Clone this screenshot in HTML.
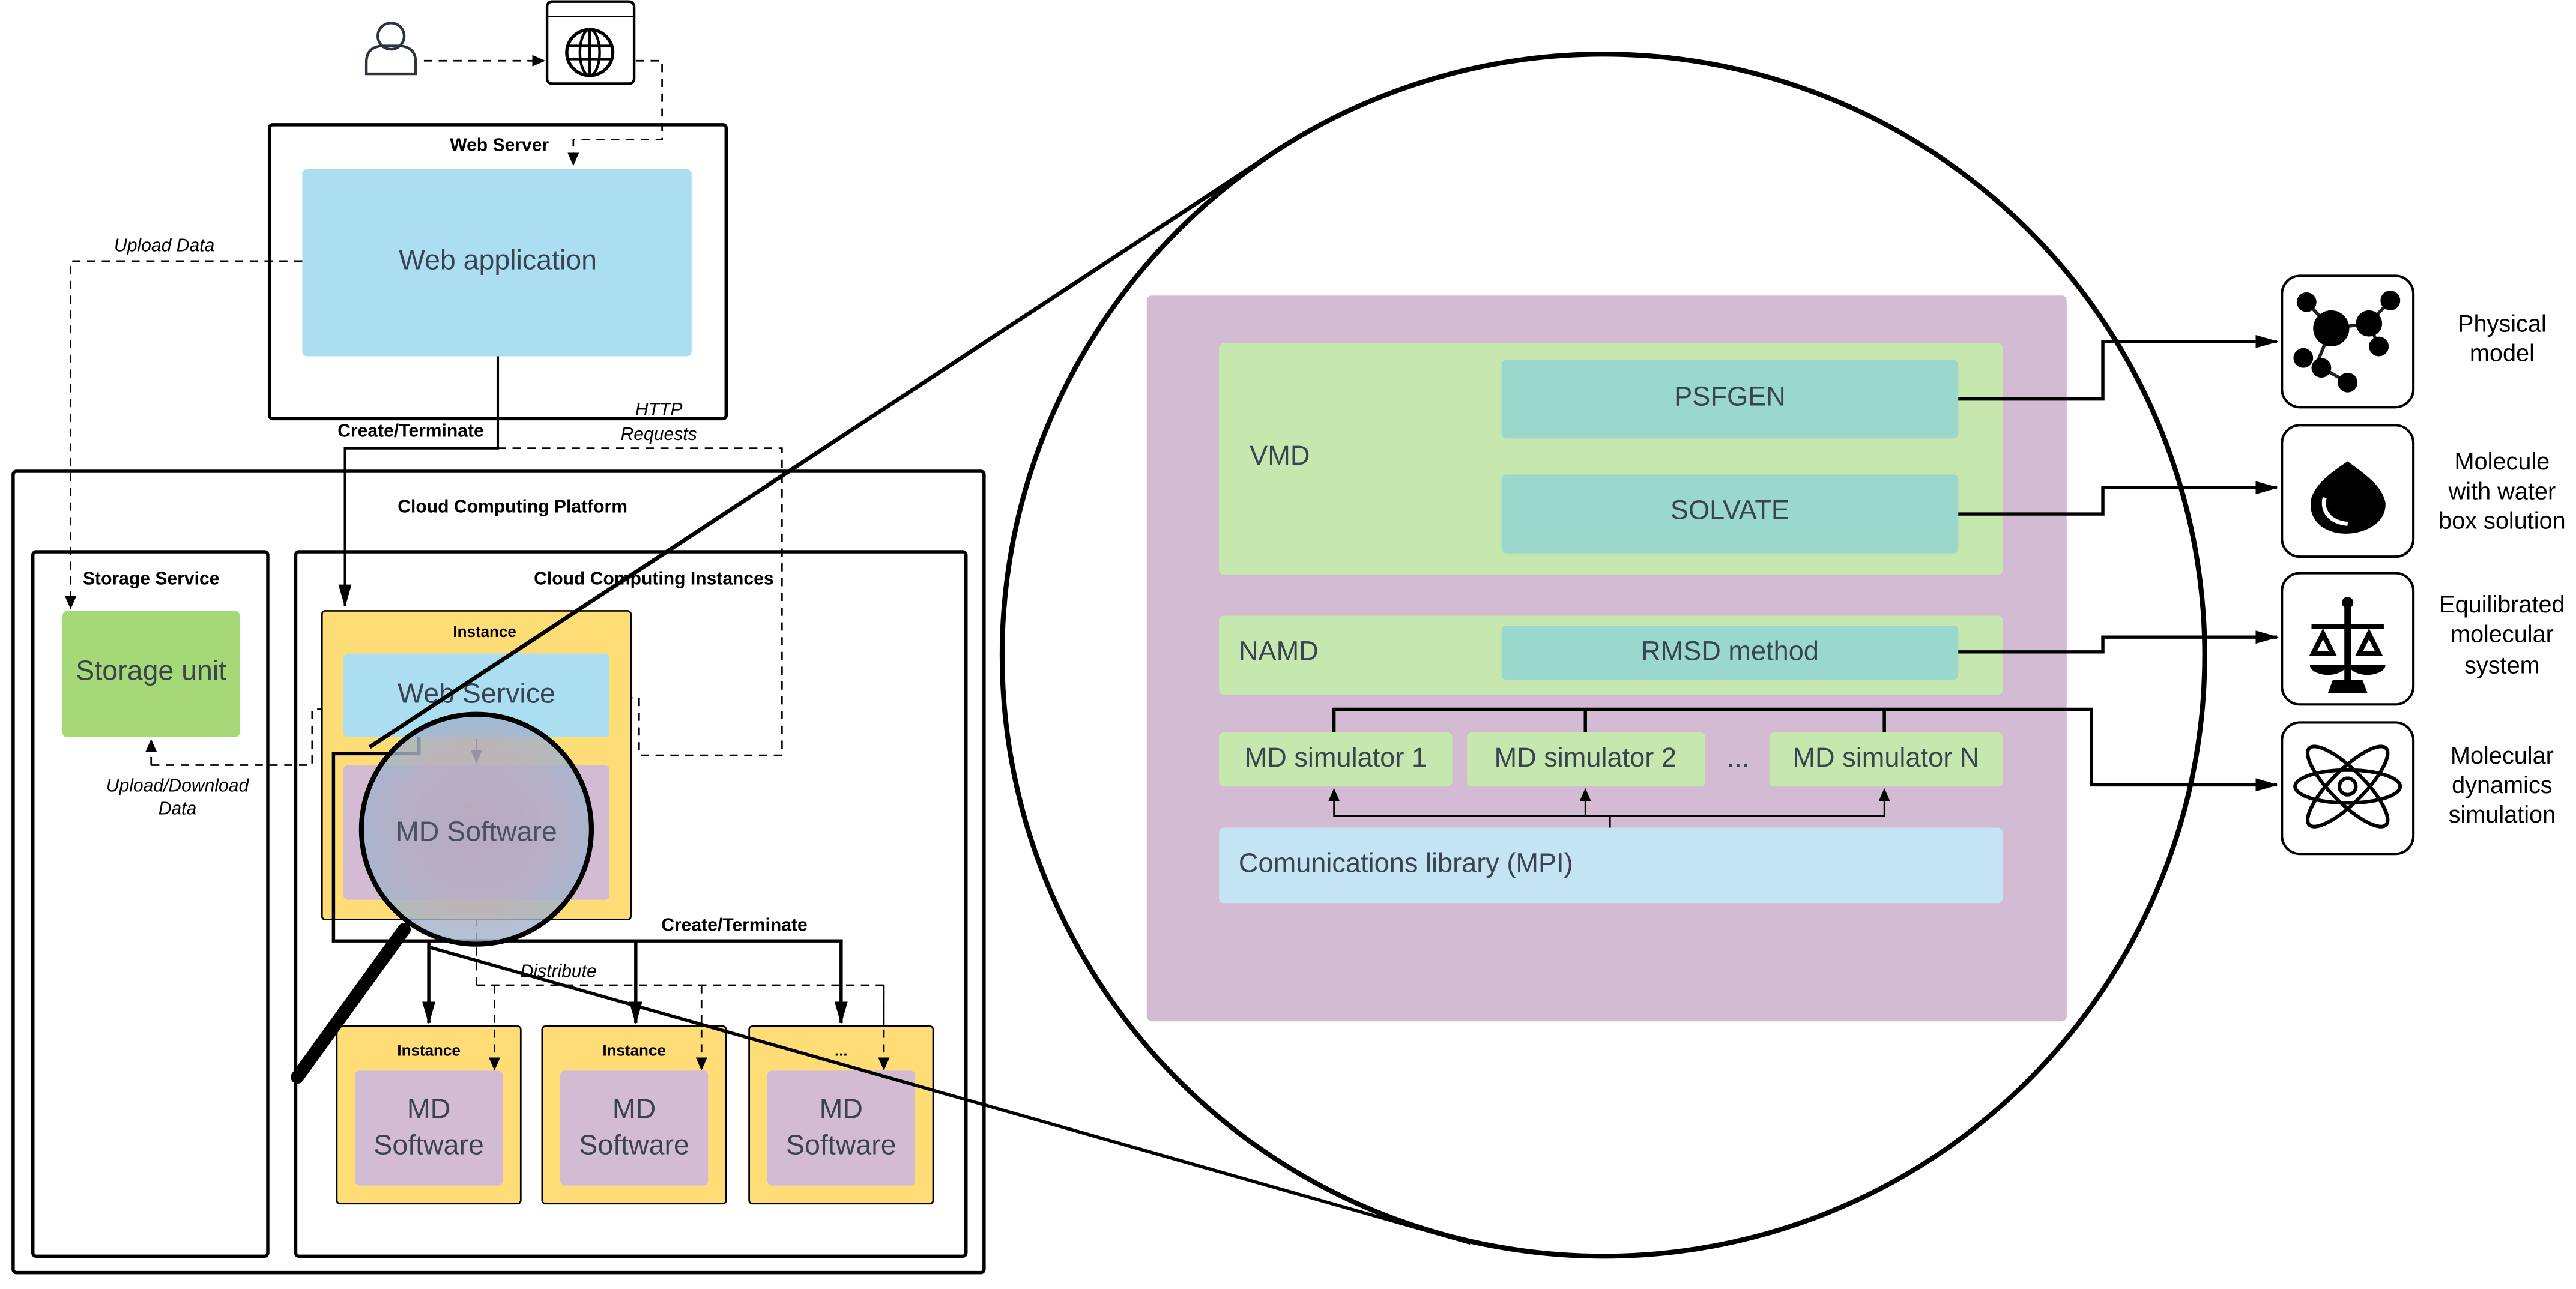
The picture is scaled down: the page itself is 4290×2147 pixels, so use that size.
<!DOCTYPE html>
<html><head><meta charset="utf-8"><style>
html,body{margin:0;padding:0;background:#fff;}
svg{display:block;}
text{font-family:"Liberation Sans",sans-serif;}
.b{font-weight:bold;font-size:11px;fill:#000;}
.i{font-style:italic;font-size:11px;fill:#000;}
.big{font-size:17px;fill:#3a4450;}
.rt{font-size:14.5px;fill:#000;}
.zm{font-size:16.5px;fill:#3a4450;}
</style></head><body>
<svg width="4290" height="2147" viewBox="0 0 1568 785" preserveAspectRatio="none" xmlns="http://www.w3.org/2000/svg">
<defs>
<marker id="a" markerWidth="8" markerHeight="8" refX="7" refY="4" orient="auto" markerUnits="userSpaceOnUse"><path d="M0,0.5 L8,4 L0,7.5z" fill="#000"/></marker>
<marker id="a2" markerWidth="14" markerHeight="10" refX="13" refY="5" orient="auto" markerUnits="userSpaceOnUse"><path d="M0,1 L14,5 L0,9z" fill="#000"/></marker>
<radialGradient id="mg" cx="50%" cy="50%" r="50%"><stop offset="0" stop-color="#b6a7bb" stop-opacity="0.9"/><stop offset="0.7" stop-color="#b0aec4" stop-opacity="0.85"/><stop offset="1" stop-color="#9eb3cc" stop-opacity="0.8"/></radialGradient>
</defs>

<!-- user & browser -->
<g fill="none" stroke="#2b3440" stroke-width="1.6">
<circle cx="238" cy="22" r="8"/>
<path d="M223,45 L223,38 Q223,29 232,28 L244,28 Q253,29 253,38 L253,45 Z"/>
</g>
<rect x="333" y="1" width="53" height="50" rx="3" fill="#fff" stroke="#000" stroke-width="1.6"/>
<line x1="333" y1="10" x2="386" y2="10" stroke="#000" stroke-width="1"/>
<circle cx="359" cy="32" r="14" fill="none" stroke="#000" stroke-width="2"/>
<ellipse cx="359" cy="32" rx="6" ry="14" fill="none" stroke="#000" stroke-width="1.6"/>
<line x1="345" y1="28" x2="373" y2="28" stroke="#000" stroke-width="1.6"/><line x1="345" y1="36" x2="373" y2="36" stroke="#000" stroke-width="1.6"/><line x1="359" y1="18" x2="359" y2="46" stroke="#000" stroke-width="1.6"/>
<g fill="none" stroke="#000" stroke-width="1" stroke-dasharray="5,4">
<path d="M258,37 H331" marker-end="url(#a)"/>
<path d="M387,37 H403 V85 H349 V100" marker-end="url(#a)"/>
<path d="M184,159 H43 V370" marker-end="url(#a)"/>
<path d="M303,273 H476 V460 H389 V425 H373" marker-end="url(#a)"/>
<path d="M92,466 H190 V432 H207" marker-end="url(#a)"/>
<path d="M92,466 V451" marker-end="url(#a)"/>
<path d="M290,600 V548" marker-end="url(#a)"/>
<path d="M290,600 H538 V651" marker-end="url(#a)"/>
</g>
<path d="M303,217 V273 H210 V369" fill="none" stroke="#000" stroke-width="1.5" marker-end="url(#a2)"/>

<!-- web server -->
<rect x="164" y="76" width="278" height="179" rx="2" fill="none" stroke="#000" stroke-width="2"/>
<text class="b" x="304" y="92" text-anchor="middle">Web Server</text>
<rect x="184" y="103" width="237" height="114" rx="3" fill="#acdef2"/>
<text class="big" x="303" y="164" text-anchor="middle">Web application</text>
<text class="i" x="100" y="153" text-anchor="middle">Upload Data</text>
<text class="b" x="250" y="266" text-anchor="middle">Create/Terminate</text>
<text class="i" x="401" y="253" text-anchor="middle">HTTP</text>
<text class="i" x="401" y="268" text-anchor="middle">Requests</text>

<!-- cloud platform -->
<rect x="8" y="287" width="591" height="488" rx="2" fill="none" stroke="#000" stroke-width="2"/>
<text class="b" x="312" y="312" text-anchor="middle">Cloud Computing Platform</text>
<rect x="20" y="336" width="143" height="429" rx="2" fill="none" stroke="#000" stroke-width="2"/>
<text class="b" x="92" y="356" text-anchor="middle">Storage Service</text>
<rect x="38" y="372" width="108" height="77" rx="3" fill="#a5d877"/>
<text class="big" x="92" y="414" text-anchor="middle">Storage unit</text>
<text class="i" x="108" y="482" text-anchor="middle">Upload/Download</text>
<text class="i" x="108" y="496" text-anchor="middle">Data</text>
<rect x="180" y="336" width="408" height="429" rx="2" fill="none" stroke="#000" stroke-width="2"/>
<text class="b" x="398" y="356" text-anchor="middle">Cloud Computing Instances</text>

<rect x="196" y="372" width="188" height="188" rx="2" fill="#fedd77" stroke="#000" stroke-width="1"/>
<text class="b" x="295" y="388" text-anchor="middle" style="font-size:9.5px">Instance</text>
<rect x="209" y="398" width="162" height="51" rx="3" fill="#acdef2"/>
<text class="big" x="290" y="428" text-anchor="middle">Web Service</text>
<rect x="209" y="466" width="162" height="82" rx="3" fill="#d2bbd3"/>
<path d="M290,450 V464" stroke="#000" stroke-width="1" fill="none" marker-end="url(#a)"/>

<!-- create/terminate 2 -->
<path d="M255,449 V459 H203 V573 H512 V623" fill="none" stroke="#000" stroke-width="2" marker-end="url(#a2)"/>
<path d="M261,573 V623" fill="none" stroke="#000" stroke-width="2" marker-end="url(#a2)"/>
<path d="M387,573 V623" fill="none" stroke="#000" stroke-width="2" marker-end="url(#a2)"/>
<text class="b" x="447" y="567" text-anchor="middle">Create/Terminate</text>
<text class="i" x="340" y="595" text-anchor="middle">Distribute</text>

<g>
<rect x="205" y="625" width="112" height="108" rx="2" fill="#fedd77" stroke="#000" stroke-width="1"/>
<rect x="216" y="652" width="90" height="70" rx="3" fill="#d2bbd3"/>
<text class="b" x="261" y="643" text-anchor="middle" style="font-size:9.5px">Instance</text>
<text class="big" x="261" y="681" text-anchor="middle">MD</text><text class="big" x="261" y="703" text-anchor="middle">Software</text>
<rect x="330" y="625" width="112" height="108" rx="2" fill="#fedd77" stroke="#000" stroke-width="1"/>
<rect x="341" y="652" width="90" height="70" rx="3" fill="#d2bbd3"/>
<text class="b" x="386" y="643" text-anchor="middle" style="font-size:9.5px">Instance</text>
<text class="big" x="386" y="681" text-anchor="middle">MD</text><text class="big" x="386" y="703" text-anchor="middle">Software</text>
<rect x="456" y="625" width="112" height="108" rx="2" fill="#fedd77" stroke="#000" stroke-width="1"/>
<rect x="467" y="652" width="90" height="70" rx="3" fill="#d2bbd3"/>
<text class="b" x="512" y="643" text-anchor="middle" style="font-size:9.5px">...</text>
<text class="big" x="512" y="681" text-anchor="middle">MD</text><text class="big" x="512" y="703" text-anchor="middle">Software</text>
</g>
<path d="M301,600 V651" stroke="#000" stroke-width="1" stroke-dasharray="5,4" marker-end="url(#a)"/>
<path d="M427,600 V651" stroke="#000" stroke-width="1" stroke-dasharray="5,4" marker-end="url(#a)"/>
<path d="M538,600 V651" stroke="#000" stroke-width="1" stroke-dasharray="5,4" marker-end="url(#a)"/>

<!-- magnifier -->
<circle cx="290" cy="505" r="70" fill="url(#mg)" stroke="#000" stroke-width="3"/>
<text class="big" x="290" y="512" text-anchor="middle" style="fill:#4a5060">MD Software</text>
<line x1="246" y1="566" x2="181" y2="656" stroke="#000" stroke-width="8" stroke-linecap="round"/>
<line x1="775" y1="93" x2="225" y2="455" stroke="#000" stroke-width="2.5"/>
<line x1="262" y1="577" x2="895" y2="757" stroke="#000" stroke-width="2"/>

<!-- big circle -->
<circle cx="976" cy="399" r="366" fill="#fff" stroke="#000" stroke-width="3"/>
<rect x="698" y="180" width="560" height="442" rx="3" fill="#d2bbd3"/>
<rect x="742" y="209" width="477" height="141" rx="3" fill="#c6e8ae"/>
<text class="zm" x="779" y="283" text-anchor="middle">VMD</text>
<rect x="914" y="219" width="278" height="48" rx="3" fill="#9ad7cc"/>
<text class="zm" x="1053" y="247" text-anchor="middle">PSFGEN</text>
<rect x="914" y="289" width="278" height="48" rx="3" fill="#9ad7cc"/>
<text class="zm" x="1053" y="316" text-anchor="middle">SOLVATE</text>
<rect x="742" y="375" width="477" height="48" rx="3" fill="#c6e8ae"/>
<text class="zm" x="754" y="402">NAMD</text>
<rect x="914" y="381" width="278" height="33" rx="3" fill="#9ad7cc"/>
<text class="zm" x="1053" y="402" text-anchor="middle">RMSD method</text>
<rect x="742" y="446" width="142" height="33" rx="3" fill="#c6e8ae"/>
<text class="zm" x="813" y="467" text-anchor="middle">MD simulator 1</text>
<rect x="893" y="446" width="145" height="33" rx="3" fill="#c6e8ae"/>
<text class="zm" x="965" y="467" text-anchor="middle">MD simulator 2</text>
<text class="zm" x="1058" y="467" text-anchor="middle">...</text>
<rect x="1077" y="446" width="142" height="33" rx="3" fill="#c6e8ae"/>
<text class="zm" x="1148" y="467" text-anchor="middle">MD simulator N</text>
<rect x="742" y="504" width="477" height="46" rx="3" fill="#c4e4f4"/>
<text class="zm" x="754" y="531">Comunications library (MPI)</text>

<g fill="none" stroke="#000" stroke-width="2">
<path d="M1192,243 H1280 V208 H1386" marker-end="url(#a2)"/>
<path d="M1192,313 H1280 V297 H1386" marker-end="url(#a2)"/>
<path d="M1192,397 H1280 V388 H1386" marker-end="url(#a2)"/>
<path d="M812,446 V432 H1273 V478 H1386" marker-end="url(#a2)"/>
<path d="M965,432 V446 M1147,432 V446"/>
</g>
<g fill="none" stroke="#000" stroke-width="1">
<path d="M980,504 V497 H812 V481" marker-end="url(#a)"/>
<path d="M980,497 H1147 V481" marker-end="url(#a)"/>
<path d="M965,497 V481" marker-end="url(#a)"/>
</g>

<!-- icons -->
<g fill="#fff" stroke="#000" stroke-width="1.5">
<rect x="1389" y="168" width="80" height="80" rx="11"/>
<rect x="1389" y="259" width="80" height="80" rx="11"/>
<rect x="1389" y="349" width="80" height="80" rx="11"/>
<rect x="1389" y="440" width="80" height="80" rx="11"/>
</g>
<g stroke="#222" stroke-width="2"><line x1="1404" y1="184" x2="1419" y2="200"/><line x1="1419" y1="200" x2="1442" y2="197"/><line x1="1442" y1="197" x2="1455" y2="183"/><line x1="1442" y1="197" x2="1448" y2="211"/><line x1="1419" y1="200" x2="1410" y2="222"/><line x1="1410" y1="222" x2="1429" y2="233"/></g>
<g fill="#000"><circle cx="1404" cy="184" r="6"/><circle cx="1419" cy="200" r="11"/><circle cx="1442" cy="197" r="8"/><circle cx="1455" cy="183" r="6"/><circle cx="1448" cy="211" r="6"/><circle cx="1402" cy="218" r="6"/><circle cx="1413" cy="224" r="6"/><circle cx="1429" cy="233" r="6"/></g>
<path d="M1429,281 C1440,289 1450,296 1452,306 C1453,318 1440,325 1428,325 C1414,325 1404,316 1407,303 C1410,294 1420,287 1429,281Z" fill="#000"/>
<path d="M1415,303 C1413,311 1418,318 1429,319" fill="none" stroke="#fff" stroke-width="2.5"/>
<g fill="#000"><rect x="1427" y="367" width="4" height="50"/><circle cx="1429" cy="367" r="3.5"/><rect x="1407" y="380" width="44" height="3"/><path d="M1406,405 h22 a11,6 0 0 1 -22,0z"/><path d="M1430,405 h22 a11,6 0 0 1 -22,0z"/><path d="M1408,398 l6,-12 l6,12z" fill="none" stroke="#000" stroke-width="3"/><path d="M1436,398 l6,-12 l6,12z" fill="none" stroke="#000" stroke-width="3"/><path d="M1417,422 h24 l-3,-8 h-18z"/></g>
<g fill="none" stroke="#000" stroke-width="2.2"><ellipse cx="1429" cy="479" rx="32" ry="10"/><ellipse cx="1429" cy="479" rx="33" ry="10" transform="rotate(45 1429 479)"/><ellipse cx="1429" cy="479" rx="33" ry="10" transform="rotate(-45 1429 479)"/><circle cx="1429" cy="479" r="5"/></g>

<g text-anchor="middle">
<text class="rt" x="1523" y="202">Physical</text><text class="rt" x="1523" y="220">model</text>
<text class="rt" x="1523" y="286">Molecule</text><text class="rt" x="1523" y="304">with water</text><text class="rt" x="1523" y="322">box solution</text>
<text class="rt" x="1523" y="373">Equilibrated</text><text class="rt" x="1523" y="391">molecular</text><text class="rt" x="1523" y="410">system</text>
<text class="rt" x="1523" y="465">Molecular</text><text class="rt" x="1523" y="483">dynamics</text><text class="rt" x="1523" y="501">simulation</text>
</g>
</svg>
</body></html>
